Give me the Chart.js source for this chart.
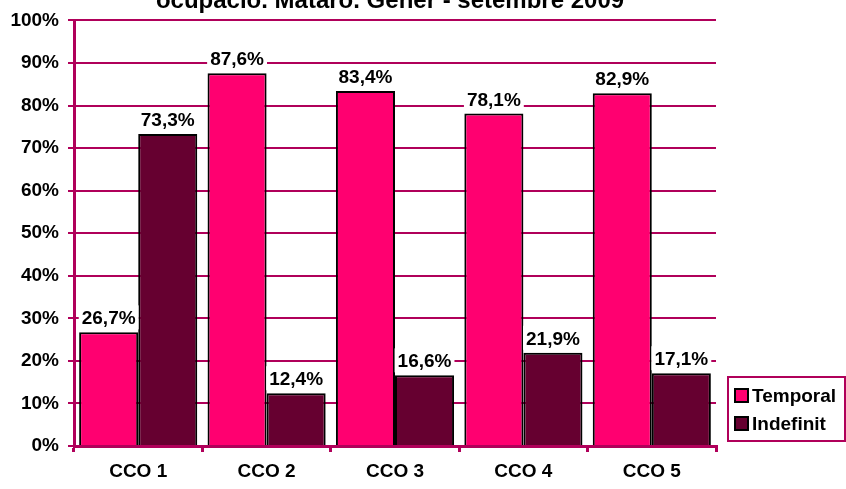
<!DOCTYPE html>
<html>
<head>
<meta charset="utf-8">
<script src="https://cdn.jsdelivr.net/npm/chart.js@4.4.0/dist/chart.umd.min.js"></script>
<style>
  body { margin: 0; background: #fff; }
  #wrap { position: relative; width: 846px; height: 489px; overflow: hidden; }
  #legend {
    position: absolute; left: 727px; top: 376px; width: 119px; height: 66px;
    border: 2px solid #b0005a; box-sizing: border-box;
    font: bold 19px "Liberation Sans", Arial, sans-serif; color: #000;
    padding: 10px 0 0 5px;
  }
  #legend div { height: 28px; line-height: 14px; white-space: nowrap; }
  #legend span { display: inline-block; width: 11px; height: 11px; border: 2px solid #000; margin-right: 3px; vertical-align: -1px; }
</style>
</head>
<body>
<div id="wrap">
  <canvas id="chart" width="846" height="489"></canvas>
  <div id="legend">
    <div><span style="background:#ff0070"></span>Temporal</div>
    <div><span style="background:#660030"></span>Indefinit</div>
  </div>
</div>
<script>
// Chart data
const categories = ['CCO 1', 'CCO 2', 'CCO 3', 'CCO 4', 'CCO 5'];
const temporal = [26.7, 87.6, 83.4, 78.1, 82.9];
const indefinit = [73.3, 12.4, 16.6, 21.9, 17.1];
const yTicks = [0, 10, 20, 30, 40, 50, 60, 70, 80, 90, 100];

const axisColor = '#b0005a';
const font = { family: '"Liberation Sans", Arial, sans-serif', size: 19, weight: 'bold' };

// Draws the value labels above each bar, on a white box
const valueLabels = {
    id: 'valueLabels',
    afterDatasetsDraw(chart) {
        const ctx = chart.ctx;
        ctx.save();
        ctx.font = 'bold 19px "Liberation Sans", Arial, sans-serif';
        ctx.textAlign = 'center';
        ctx.textBaseline = 'alphabetic';
        chart.data.datasets.forEach((ds, i) => {
            chart.getDatasetMeta(i).data.forEach((bar, j) => {
                const text = ds.data[j].toFixed(1).replace('.', ',') + '%';
                const w = ctx.measureText(text).width;
                const y = bar.y - 8;
                ctx.fillStyle = '#fff';
                ctx.fillRect(bar.x - w / 2 - 3, y - 19, w + 6, 24);
                ctx.fillStyle = '#000';
                ctx.fillText(text, bar.x, y);
            });
        });
        ctx.restore();
    }
};

// Title, mostly cut off at the top edge
const topTitle = {
    id: 'topTitle',
    afterDraw(chart) {
        const ctx = chart.ctx;
        ctx.save();
        ctx.font = 'bold 24px "Liberation Sans", Arial, sans-serif';
        ctx.fillStyle = '#000';
        ctx.textAlign = 'center';
        ctx.textBaseline = 'alphabetic';
        ctx.fillText('ocupació. Mataró. Gener - setembre 2009', 390, 8);
        ctx.restore();
    }
};

new Chart(document.getElementById('chart').getContext('2d'), {
    type: 'bar',
    data: {
        labels: categories,
        datasets: [{
            label: 'Temporal',
            data: temporal,
            backgroundColor: '#ff0070',
            borderColor: '#000',
            borderWidth: 2,
            borderSkipped: 'bottom'
        }, {
            label: 'Indefinit',
            data: indefinit,
            backgroundColor: '#660030',
            borderColor: '#000',
            borderWidth: 2,
            borderSkipped: 'bottom'
        }]
    },
    options: {
        responsive: false,
        animation: false,
        layout: { padding: { top: 19, right: 130, left: 0, bottom: 0 } },
        plugins: {
            legend: { display: false },
            tooltip: { enabled: false }
        },
        datasets: { bar: { categoryPercentage: 0.92, barPercentage: 1 } },
        scales: {
            x: {
                grid: {
                    offset: true,
                    drawOnChartArea: false,
                    drawTicks: true,
                    tickLength: 6,
                    color: axisColor,
                    lineWidth: 3
                },
                border: { color: axisColor, width: 3 },
                ticks: { color: '#000', font: font, padding: 8 },
                afterFit(scale) { scale.height = 43; }
            },
            y: {
                min: 0,
                max: 100,
                afterBuildTicks(scale) { scale.ticks = yTicks.map(v => ({ value: v })); },
                grid: {
                    color: axisColor,
                    lineWidth: 2,
                    tickLength: 6
                },
                border: { color: axisColor, width: 3 },
                ticks: {
                    color: '#000',
                    font: font,
                    padding: 9,
                    callback: v => v + '%'
                },
                afterFit(scale) { scale.width = 74; }
            }
        }
    },
    plugins: [valueLabels, topTitle]
});
</script>
</body>
</html>
